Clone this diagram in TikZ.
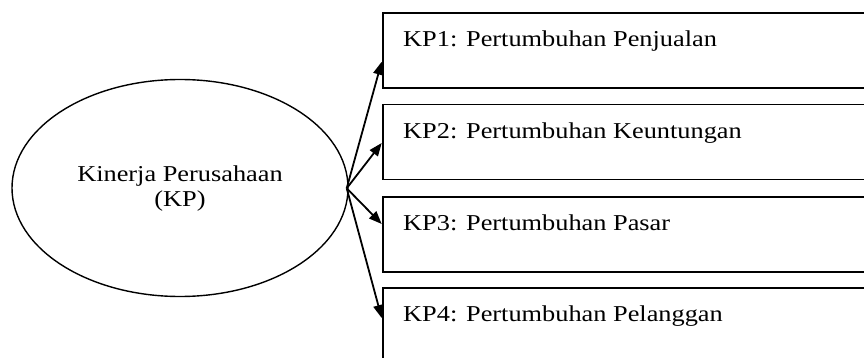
\documentclass[tikz,border=0pt]{standalone}
\usepackage{fontspec}
\setmainfont[FakeStretch=1.16]{Liberation Serif}
\usetikzlibrary{shapes.geometric,arrows.meta,calc}
\begin{document}
\begin{tikzpicture}[x=1pt,y=-1pt,
  font=\fontsize{22.7}{24.5}\selectfont,
  itembox/.style={draw,line width=1.8pt,rectangle,anchor=north west,inner sep=0pt,
    minimum width=500pt,minimum height=75pt},
  itemlabel/.style={anchor=base west,inner sep=0pt},
  link/.style={line width=1.8pt,-{Triangle[length=13pt,width=10pt]}}]
\useasboundingbox (0,0) rectangle (864,358);
\clip (0,0) rectangle (864,358);
% central construct
\node[draw,ellipse,line width=1.4pt,minimum width=336pt,minimum height=217pt] (kp) at (180,188) {};
\node[align=center,anchor=base,inner sep=0pt] (kpt) at (180,206) {Kinerja Perusahaan\\(KP)};
% indicator boxes
\node[itembox] (b1) at (381.7,12) {};
\node[itembox] (b2) at (381.7,103.7) {};
\node[itembox] (b3) at (381.7,196) {};
\node[itembox,minimum height=95pt] (b4) at (381.7,286.7) {};
\node[itemlabel] (t1) at (403,46.7) {KP1: Pertumbuhan Penjualan};
\node[itemlabel] (t2) at (403,138.3) {KP2: Pertumbuhan Keuntungan};
\node[itemlabel] (t3) at (403,230) {KP3: Pertumbuhan Pasar};
\node[itemlabel] (t4) at (403,321.7) {KP4: Pertumbuhan Pelanggan};
% loadings
\coordinate (o) at (346.7,188.3);
\coordinate (e1) at ($(b1.north west)+(0,49.7)$);
\coordinate (e2) at ($(b2.north west)+(0,39.3)$);
\coordinate (e3) at ($(b3.north west)+(0,28)$);
\coordinate (e4) at ($(b4.north west)+(0,31.3)$);
\foreach \e in {e1,e2,e3,e4} \draw[link] (o) -- (\e);
\end{tikzpicture}
\end{document}
